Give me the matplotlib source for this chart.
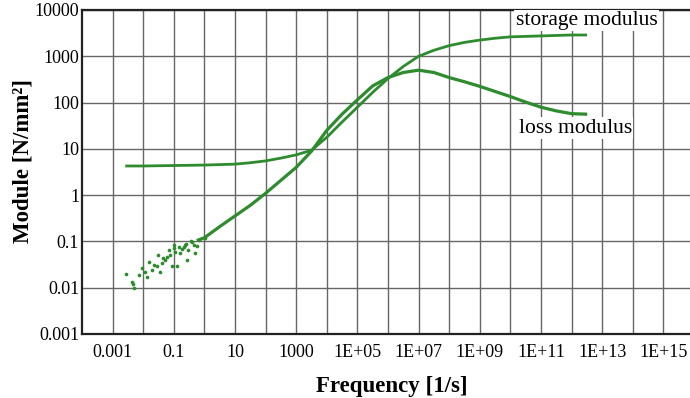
import matplotlib
matplotlib.use("Agg")
import matplotlib.pyplot as plt
from matplotlib.ticker import FixedLocator, NullFormatter
import numpy as np

plt.rcParams['font.family'] = ['Liberation Serif', 'DejaVu Serif']

# values, as log10 of frequency [1/s] and modulus [N/mm^2]
storage_logf = [-2.54, -2.0, -1.0, 0.0, 1.0, 1.5, 2.0, 2.5, 3.0, 3.5, 4.0, 4.5,
                5.0, 5.5, 6.0, 6.5, 7.0, 7.5, 8.0, 8.5, 9.0, 9.5, 10.0, 11.0,
                12.0, 12.46]
storage_logG = [0.63, 0.63, 0.64, 0.65, 0.67, 0.70, 0.74, 0.80, 0.87, 0.97, 1.25, 1.58,
                1.90, 2.22, 2.52, 2.78, 3.00, 3.13, 3.23, 3.30, 3.35, 3.39, 3.42, 3.44,
                3.46, 3.46]

loss_logf = [-0.2, 0.0, 0.5, 1.0, 1.5, 2.0, 2.5, 3.0, 3.5, 4.0, 4.5, 5.0, 5.5,
             6.0, 6.5, 7.0, 7.5, 8.0, 8.5, 9.0, 9.5, 10.0, 10.5, 11.0, 11.5,
             12.0, 12.46]
loss_logG = [-0.97, -0.92, -0.68, -0.45, -0.22, 0.04, 0.32, 0.60, 0.95, 1.40, 1.75,
             2.06, 2.36, 2.54, 2.65, 2.70, 2.65, 2.54, 2.45, 2.35, 2.24, 2.13, 2.01,
             1.90, 1.82, 1.76, 1.75]

# scattered loss modulus points at low frequency
scatter_logf = [-2.57, -2.37, -2.31, -2.15, -2.04, -1.88, -1.82, -1.72, -1.55, -1.44,
                -1.39, -1.28, -1.11, -1.06, -0.90, -0.95, -0.79, -0.68, -0.57, -0.52,
                -0.35, -0.30, -0.19, 0.03, -1.50, -1.17, -0.84, -1.00, -0.60, -0.45,
                -2.33, -1.95, -1.65, -1.35, -1.22, -0.98, -0.74, -0.64, -0.40, -0.25]
scatter_logG = [-1.70, -1.87, -2.01, -1.72, -1.58, -1.76, -1.44, -1.62, -1.54, -1.65,
                -1.47, -1.40, -1.29, -1.54, -1.54, -1.22, -1.25, -1.11, -1.40, -1.18,
                -1.08, -1.25, -0.97, -0.92, -1.29, -1.18, -1.12, -1.08, -1.05, -1.00,
                -1.92, -1.66, -1.50, -1.36, -1.33, -1.15, -1.17, -1.08, -1.02, -1.10]

xtick_vals = [1e-3, 1e-1, 1e1, 1e3, 1e5, 1e7, 1e9, 1e11, 1e13, 1e15]
xtick_labels = ['0.001', '0.1', '10', '1000', '1E+05', '1E+07', '1E+09',
                '1E+11', '1E+13', '1E+15']
xminor_vals = [1e-2, 1e0, 1e2, 1e4, 1e6, 1e8, 1e10, 1e12, 1e14]
ytick_vals = [1e-3, 1e-2, 1e-1, 1e0, 1e1, 1e2, 1e3, 1e4]
ytick_labels = ['0.001', '0.01', '0.1', '1', '10', '100', '1000', '10000']

green = '#2e8b2e'

fig = plt.figure(figsize=(6.9, 3.98), dpi=100)
ax = fig.add_axes([82 / 690, 64 / 398, 608 / 690, 324 / 398])
ax.set_xscale('log')
ax.set_yscale('log')

ax.plot(10 ** np.array(storage_logf), 10 ** np.array(storage_logG),
        color=green, lw=2.0, zorder=3)
ax.plot(10 ** np.array(loss_logf), 10 ** np.array(loss_logG),
        color=green, lw=2.3, zorder=3)
ax.scatter(10 ** np.array(scatter_logf), 10 ** np.array(scatter_logG),
           s=7, color=green, linewidths=0, zorder=3)

ax.set_xlim(1e-4, 10 ** 15.87)
ax.set_ylim(1e-3, 1e4)

ax.xaxis.set_major_locator(FixedLocator(xtick_vals))
ax.set_xticklabels(xtick_labels)
ax.xaxis.set_minor_locator(FixedLocator(xminor_vals))
ax.xaxis.set_minor_formatter(NullFormatter())
ax.yaxis.set_major_locator(FixedLocator(ytick_vals))
ax.set_yticklabels(ytick_labels)
ax.yaxis.set_minor_locator(FixedLocator([]))

ax.tick_params(which='both', length=0, labelsize=13)
ax.tick_params(axis='x', pad=7)
ax.tick_params(axis='y', pad=2)

ax.grid(True, which='both', color='#666666', lw=1.0, zorder=0)
ax.set_axisbelow(True)

for side in ['top', 'left', 'bottom']:
    ax.spines[side].set_linewidth(1.6)
    ax.spines[side].set_color('#222222')
ax.spines['right'].set_visible(False)

ax.set_xlabel('Frequency [1/s]', fontsize=16.5, fontweight='bold', labelpad=9)
ax.xaxis.set_label_coords(0.51, -0.13)
ax.set_ylabel('Module [N/mm²]', fontsize=16.5, fontweight='bold', labelpad=3)
ax.yaxis.set_label_coords(-0.08, 0.535)

ax.text(10 ** 12.49, 10 ** 3.77, 'storage modulus', fontsize=15.5, ha='center',
        va='center', bbox=dict(facecolor='white', edgecolor='none', pad=1), zorder=4)
ax.text(10 ** 12.13, 10 ** 1.45, 'loss modulus', fontsize=15.5, ha='center',
        va='center', bbox=dict(facecolor='white', edgecolor='none', pad=1), zorder=4)

fig.savefig('out.png', dpi=100)
